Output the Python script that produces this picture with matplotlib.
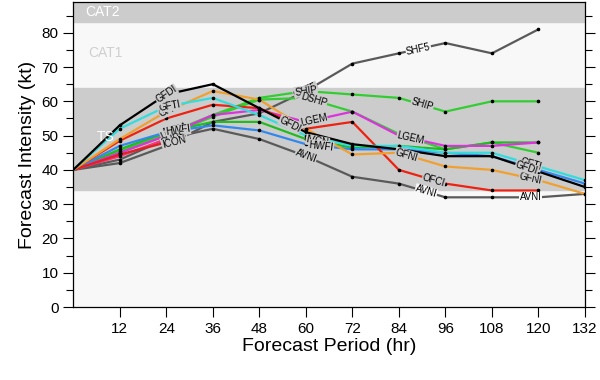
import numpy as np
import matplotlib.pyplot as plt

plt.rcParams['font.family'] = ['Liberation Sans', 'DejaVu Sans']

hours = [0, 12, 24, 36, 48, 60, 72, 84, 96, 108, 120, 132]

# intensity forecasts (kt), one list per model
gfdi = [40, 53, 62, 65, 58, 51, 47.5, 46, 44, 44, 39.5, 35]
gfti = [40, 52, 58.5, 61, 56, 50, 47, 47, 45, 45, 41, 37]
gfni = [40, 49, 57, 63, 60.5, 52, 44.5, 45, 41, 40, 37, 33]
ofci = [40, 48.5, 55, 59, 58, 52, 54, 40, 36, 34, 34]
hwfi = [40, 47, 51, 53, 51.5, 47.5, 46, 46, 45, 44, 40, 36]
ship = [40, 45.5, 50.5, 56, 61, 63, 62, 61, 57, 60, 60]
dshp = [40, 45, 50, 55.5, 60.5, 61, 57, 50.5, 46, 48, 45]
ivcn = [40, 46, 51, 54, 54, 49, 46.5, 47, 46, 48, 48]
lgem = [40, 45, 50, 56, 57.5, 54, 57, 50, 47, 47, 48]
shf5 = [40, 42, 47, 54, 56.5, 63, 71, 74, 77, 74, 81]
avni = [40, 43, 49, 52, 49, 44, 38, 36, 32, 32, 32, 33]
shps = [40, 44, 49]
icon = [40, 44.5, 48]

models = [
    ('SHF5', shf5, '#5a5a5a', [60, 89]),
    ('AVNI', avni, '#5a5a5a', [60, 91, 118]),
    ('SHIP', ship, '#33cc33', [60, 90]),
    ('DSHP', dshp, '#33cc33', [62]),
    ('IVCN', ivcn, '#22bb22', [26, 63]),
    ('LGEM', lgem, '#dd33dd', [26, 62, 87]),
    ('HWFI', hwfi, '#3388ee', [27, 64]),
    ('SHPS', shps, '#ff3377', [26]),
    ('ICON', icon, '#dd2222', [26]),
    ('OFCI', ofci, '#ee2211', [93]),
    ('GFNI', gfni, '#f0a030', [25, 86, 118]),
    ('GFTI', gfti, '#33dddd', [25, 118]),
    ('GFDI', gfdi, '#000000', [24, 56, 117]),
]

fig = plt.figure(figsize=(6, 3.8), dpi=100)
ax = fig.add_axes([0.122, 0.192, 0.853, 0.803])
ax.set_xlim(0, 132)
ax.set_ylim(0, 89)
ax.set_facecolor('#f8f8f8')

band = '#cccccc'
ax.axhspan(34, 64, color=band, zorder=0)
ax.axhspan(83, 89, color=band, zorder=0)
ax.text(3, 86, 'CAT2', color='white', fontsize=10, va='center')
ax.text(4, 74, 'CAT1', color='#cfcfcf', fontsize=10, va='center')
ax.text(6, 49.5, 'TS', color='white', fontsize=10, va='center')

for name, vals, col, spots in models:
    t = hours[:len(vals)]
    ax.plot(t, vals, color=col, lw=1.6, zorder=2)
    ax.plot(t[1:], vals[1:], 'o', color='black', ms=1.6, zorder=3)

for name, vals, col, spots in models:
    t = hours[:len(vals)]
    for s in spots:
        y = np.interp(s, t, vals)
        i = min(max(np.searchsorted(t, s) - 1, 0), len(t) - 2)
        p0 = ax.transData.transform((t[i], vals[i]))
        p1 = ax.transData.transform((t[i + 1], vals[i + 1]))
        ang = np.degrees(np.arctan2(p1[1] - p0[1], p1[0] - p0[0]))
        bg = band if (34 <= y <= 64 or y >= 83) else '#f8f8f8'
        ax.text(s, y, name, fontsize=7, rotation=ang, rotation_mode='anchor',
                ha='center', va='center', zorder=4,
                bbox=dict(boxstyle='square,pad=0.05', fc=bg, ec='none'))

ax.set_xticks(hours[1:])
ax.set_yticks(range(0, 81, 10))
ax.set_yticks(range(0, 89, 5), minor=True)
ax.tick_params(axis='both', direction='out', labelsize=11, length=7, width=0.8)
ax.tick_params(axis='y', which='both', right=True)
ax.tick_params(axis='y', which='minor', length=5, width=0.8)
for sp in ax.spines.values():
    sp.set_linewidth(0.9)

ax.set_xlabel('Forecast Period (hr)', fontsize=14, labelpad=2)
ax.set_ylabel('Forecast Intensity (kt)', fontsize=14, labelpad=4)

fig.savefig('out.png')
